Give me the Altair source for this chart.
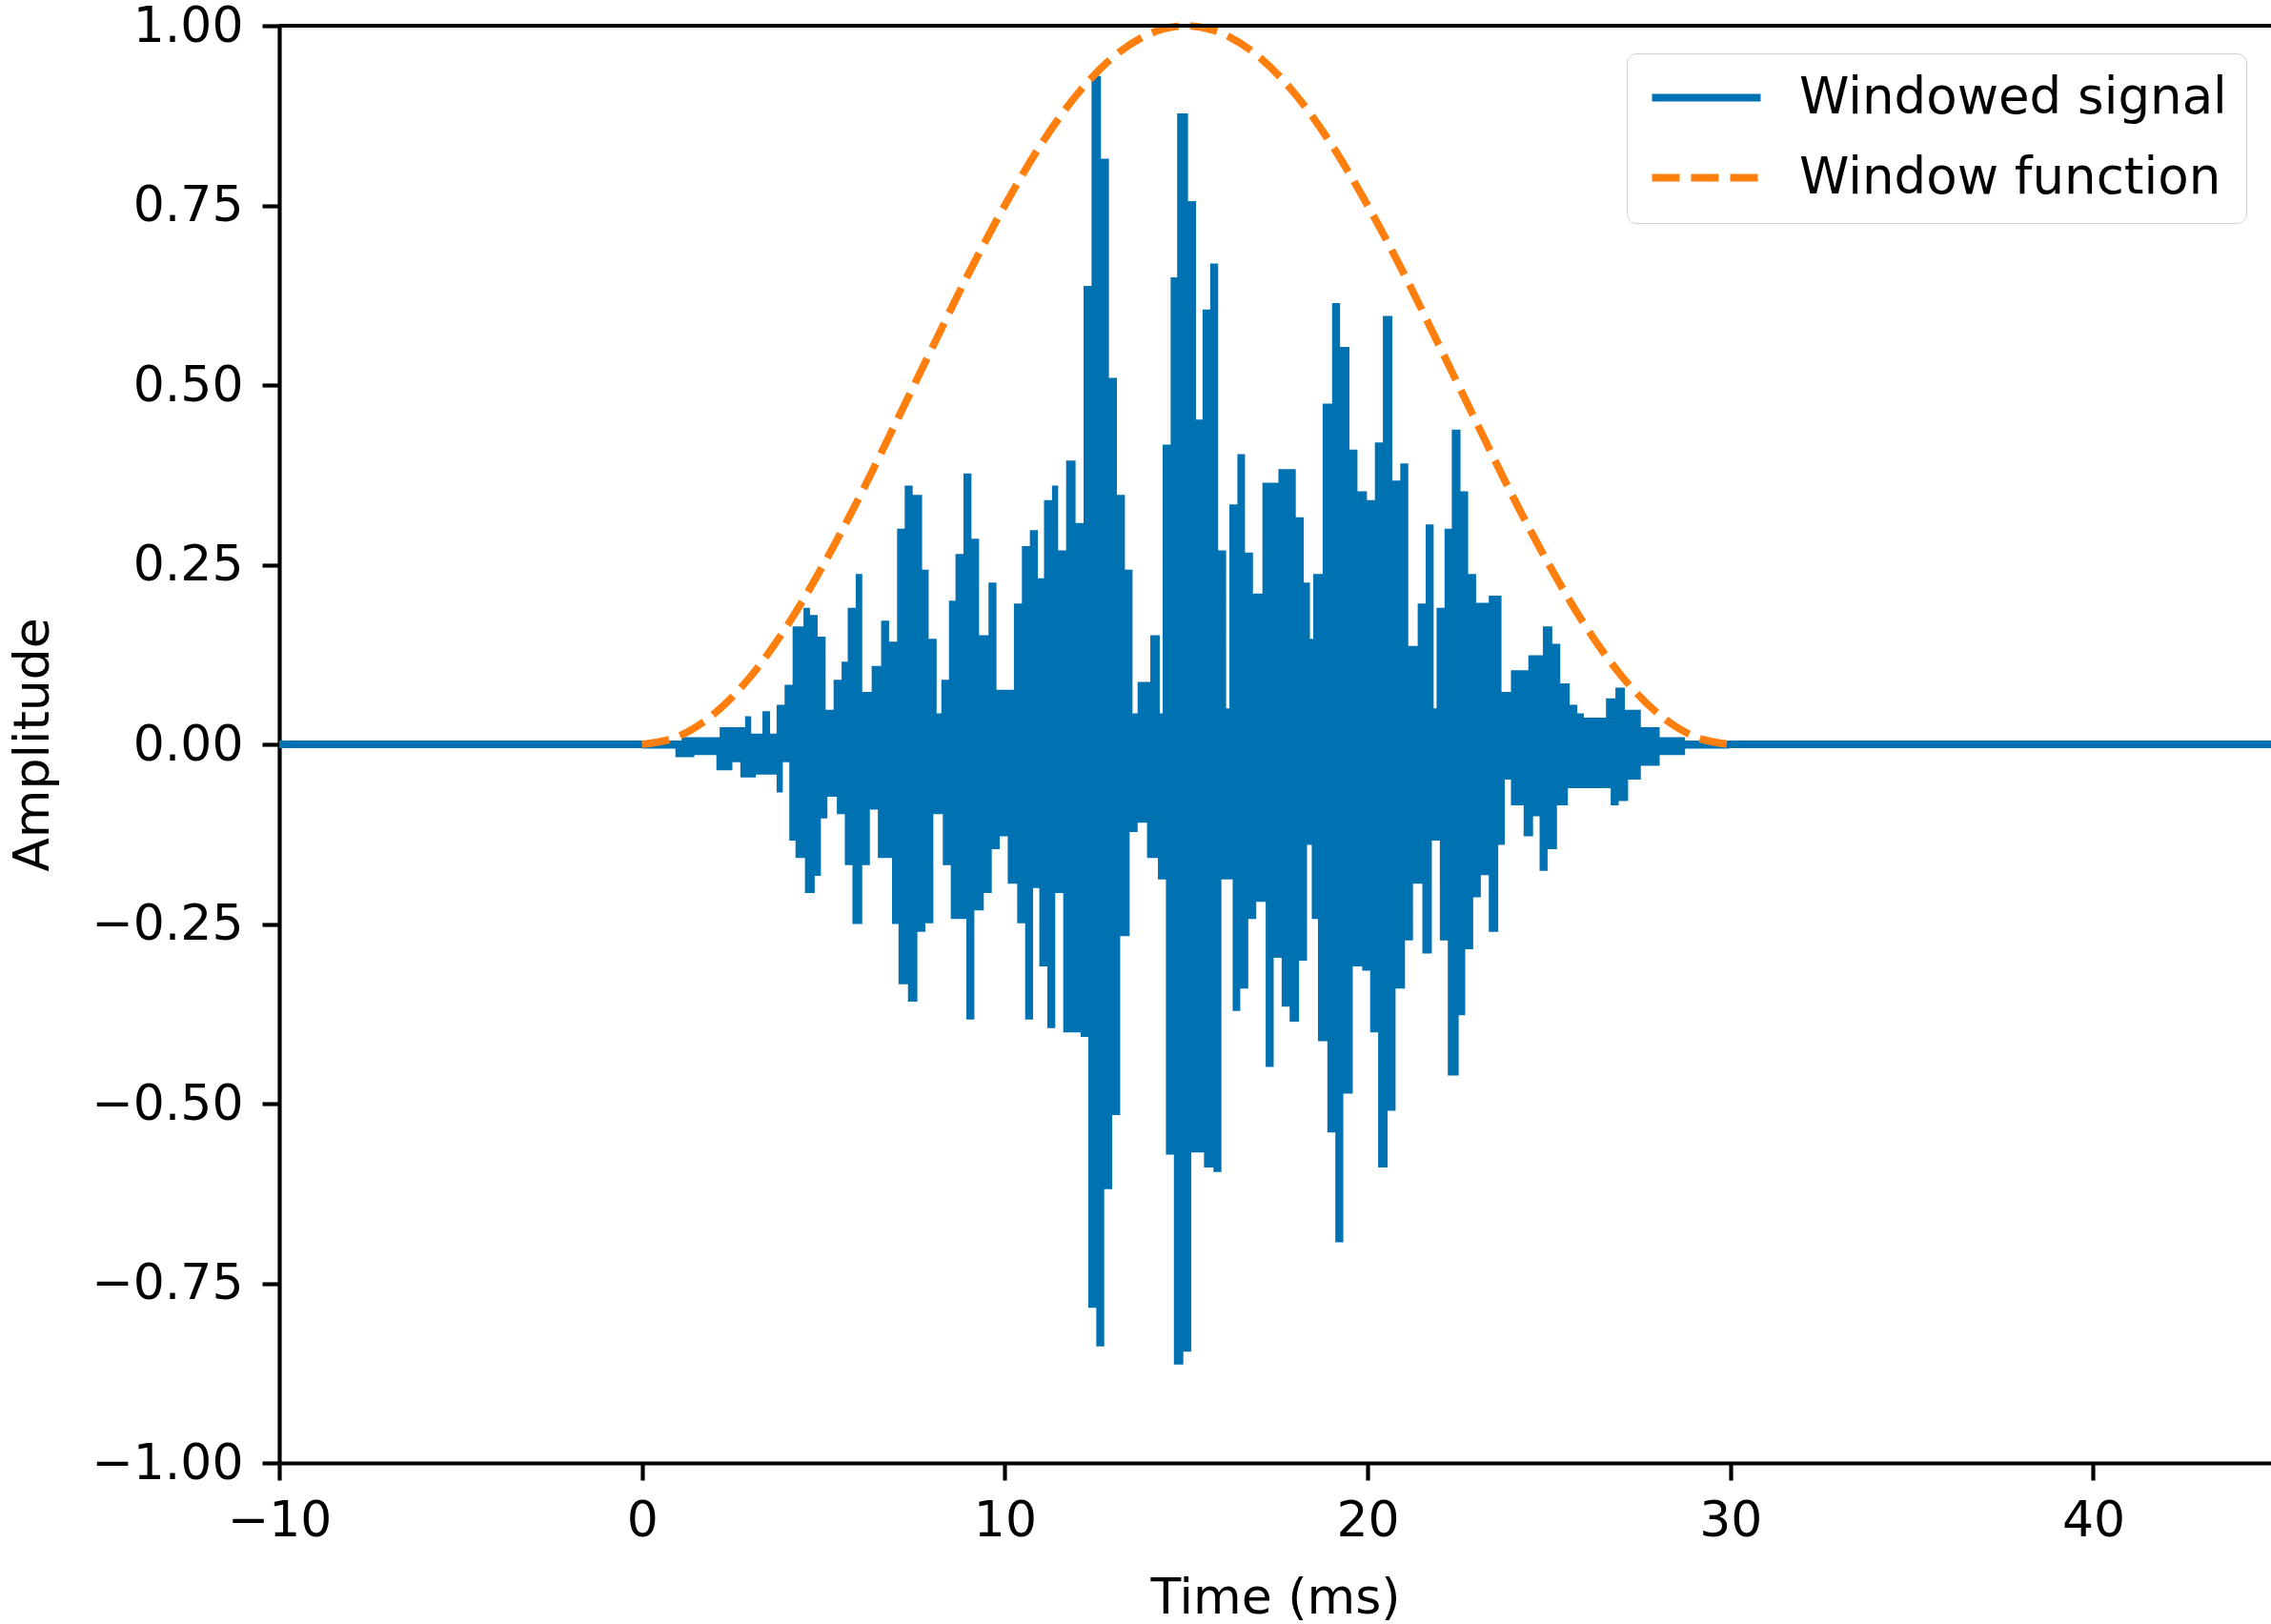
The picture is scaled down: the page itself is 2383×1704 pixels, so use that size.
import altair as alt
import pandas as pd

# ---------------- data ----------------
# Upper envelope of the windowed signal (step-after): time (ms), amplitude
upper_t = [0.0, 1.09, 2.14, 2.84, 3.01, 3.32, 3.53, 3.71, 3.93, 4.15, 4.45, 4.63, 4.84,
           5.06, 5.28, 5.50, 5.67, 5.89, 6.07, 6.33, 6.59, 6.81, 7.03, 7.24, 7.46, 7.72,
           7.90, 8.12, 8.25, 8.46, 8.64, 8.86, 9.08, 9.29, 9.55, 9.77, 10.25, 10.47,
           10.69, 10.91, 11.08, 11.30, 11.47, 11.69, 11.95, 12.17, 12.39, 12.65, 12.87,
           13.09, 13.31, 13.52, 13.66, 14.01, 14.27, 14.35, 14.57, 14.75, 15.05, 15.27,
           15.45, 15.66, 15.88, 16.10, 16.19, 16.41, 16.62, 16.84, 17.10, 17.54, 18.02,
           18.24, 18.41, 18.50, 18.76, 19.02, 19.24, 19.50, 19.72, 19.98, 20.20, 20.42,
           20.68, 20.90, 21.12, 21.38, 21.60, 21.82, 21.90, 22.12, 22.32, 22.56, 22.77,
           22.99, 23.34, 23.69, 23.95, 24.43, 24.83, 25.09, 25.31, 25.57, 25.78, 25.96,
           26.57, 26.83, 27.09, 27.53, 28.05, 28.75, 29.97]
upper_v = [0.003, 0.01, 0.024, 0.039, 0.015, 0.046, 0.015, 0.055, 0.083, 0.164, 0.19, 0.18,
           0.15, 0.048, 0.09, 0.115, 0.19, 0.237, 0.073, 0.109, 0.172, 0.143, 0.30, 0.36,
           0.347, 0.243, 0.147, 0.043, 0.09, 0.20, 0.265, 0.377, 0.286, 0.152, 0.225,
           0.076, 0.196, 0.276, 0.298, 0.231, 0.34, 0.36, 0.27, 0.395, 0.308, 0.638, 0.93,
           0.815, 0.51, 0.347, 0.243, 0.043, 0.087, 0.152, 0.043, 0.417, 0.65, 0.878,
           0.756, 0.452, 0.605, 0.669, 0.27, 0.05, 0.334, 0.404, 0.267, 0.21, 0.364,
           0.383, 0.316, 0.225, 0.147, 0.237, 0.474, 0.614, 0.553, 0.41, 0.352, 0.34,
           0.42, 0.596, 0.367, 0.391, 0.137, 0.196, 0.306, 0.05, 0.19, 0.30, 0.438, 0.352,
           0.237, 0.197, 0.207, 0.073, 0.103, 0.124, 0.164, 0.14, 0.085, 0.055, 0.043,
           0.037, 0.064, 0.079, 0.048, 0.024, 0.01, 0.003, 0.0]

# Lower envelope of the windowed signal (step-after)
lower_t = [0.0, 0.92, 1.44, 2.05, 2.49, 2.71, 3.14, 3.71, 3.88, 4.06, 4.23, 4.49, 4.76,
           4.93, 5.11, 5.37, 5.59, 5.80, 6.07, 6.28, 6.50, 6.89, 7.07, 7.33, 7.59, 7.81,
           8.03, 8.29, 8.51, 8.94, 9.16, 9.42, 9.64, 9.86, 10.08, 10.34, 10.56, 10.78,
           10.95, 11.17, 11.39, 11.61, 12.09, 12.30, 12.52, 12.74, 12.96, 13.18, 13.44,
           13.66, 13.92, 14.22, 14.44, 14.66, 14.92, 15.14, 15.49, 15.75, 15.97, 16.28,
           16.49, 16.71, 16.93, 17.19, 17.41, 17.63, 17.85, 18.11, 18.33, 18.46, 18.63,
           18.89, 19.11, 19.33, 19.59, 19.85, 20.07, 20.29, 20.55, 20.77, 21.03, 21.25,
           21.51, 21.77, 21.99, 22.21, 22.51, 22.69, 22.91, 23.12, 23.34, 23.60, 23.78,
           23.95, 24.30, 24.56, 24.74, 24.96, 25.22, 25.52, 26.48, 26.70, 26.92, 27.18,
           27.53, 28.05, 28.75, 29.97]
lower_v = [-0.006, -0.018, -0.015, -0.036, -0.025, -0.046, -0.042, -0.067, -0.025, -0.134,
           -0.158, -0.207, -0.183, -0.103, -0.073, -0.097, -0.168, -0.25, -0.168, -0.091,
           -0.158, -0.25, -0.334, -0.358, -0.261, -0.249, -0.097, -0.168, -0.243, -0.383,
           -0.231, -0.207, -0.146, -0.128, -0.194, -0.249, -0.383, -0.20, -0.309, -0.395,
           -0.207, -0.401, -0.407, -0.784, -0.838, -0.619, -0.516, -0.267, -0.122, -0.109,
           -0.158, -0.188, -0.571, -0.863, -0.845, -0.568, -0.589, -0.595, -0.188, -0.371,
           -0.34, -0.243, -0.219, -0.449, -0.297, -0.365, -0.386, -0.301, -0.140, -0.243,
           -0.413, -0.54, -0.693, -0.486, -0.309, -0.315, -0.401, -0.589, -0.51, -0.34,
           -0.273, -0.194, -0.291, -0.134, -0.273, -0.461, -0.377, -0.285, -0.213, -0.182,
           -0.261, -0.140, -0.049, -0.085, -0.128, -0.10, -0.176, -0.146, -0.085, -0.061,
           -0.061, -0.085, -0.079, -0.049, -0.03, -0.015, -0.006, 0.0]

# Signal outside the window (flat at zero)
signal_t = [-10.0, 0.0, 30.0, 44.9]
signal_v = [0.0, 0.0, 0.0, 0.0]

# Window function (1 ms steps)
window_t = list(range(0, 31))
window_v = [0.000, 0.011, 0.043, 0.095, 0.165, 0.250, 0.345, 0.448, 0.552, 0.655, 0.750,
            0.835, 0.905, 0.957, 0.989, 1.000, 0.989, 0.957, 0.905, 0.835, 0.750, 0.655,
            0.552, 0.448, 0.345, 0.250, 0.165, 0.095, 0.043, 0.011, 0.000]

series_names = ["Windowed signal", "Window function"]
x_ticks = [-10, 0, 10, 20, 30, 40]
y_ticks = [-1.0, -0.75, -0.5, -0.25, 0.0, 0.25, 0.5, 0.75, 1.0]
x_domain = [-10, 44.9]
y_domain = [-1.0, 1.0]

BLUE = "#0072B2"
ORANGE = "#FF7F0E"
FONT = "DejaVu Sans"
LW = 7.8
AXW = 4.2

# ---------------- tables ----------------
up_df = pd.DataFrame({"t": upper_t, "v": upper_v})
lo_df = pd.DataFrame({"t": lower_t, "v": lower_v})
lines_df = pd.concat([
    pd.DataFrame({"t": signal_t, "v": signal_v, "series": series_names[0]}),
    pd.DataFrame({"t": window_t, "v": window_v, "series": series_names[1]}),
], ignore_index=True)
top_df = pd.DataFrame({"v": [y_domain[1]]})

xscale = alt.Scale(domain=x_domain, nice=False, zero=False)
yscale = alt.Scale(domain=y_domain, nice=False, zero=False)

xaxis = alt.Axis(values=x_ticks, format="d", title="Time (ms)", grid=False,
                 labelFontSize=52, labelFont=FONT, labelColor="black", labelPadding=17,
                 tickSize=18, tickWidth=AXW, tickColor="black",
                 domainWidth=AXW, domainColor="black",
                 titleFontSize=52, titleFont=FONT, titleFontWeight="normal",
                 titleColor="black", titleY=157, titleBaseline="alphabetic",
                 labelFlush=False, labelOverlap=False)
yaxis = alt.Axis(values=y_ticks, format=".2f", title="Amplitude", grid=False,
                 labelFontSize=52, labelFont=FONT, labelColor="black", labelPadding=20,
                 tickSize=18, tickWidth=AXW, tickColor="black",
                 domainWidth=AXW, domainColor="black",
                 titleFontSize=52, titleFont=FONT, titleFontWeight="normal",
                 titleColor="black", titleX=-243, titleY=754, titleAngle=270,
                 titleBaseline="alphabetic", titleAlign="center",
                 labelFlush=False, labelOverlap=False)

legend = alt.Legend(title=None, orient="none", legendX=1414, legendY=29,
                    symbolType="M-1,0H4.7", symbolSize=1600, symbolStrokeWidth=LW,
                    labelFontSize=53, labelFont=FONT, labelColor="black",
                    labelLimit=1000, labelOffset=108, padding=20, rowPadding=30,
                    fillColor="white", strokeColor="#d0d0d0", cornerRadius=10)

base_x = alt.X("t:Q", scale=xscale, axis=xaxis)

area_up = alt.Chart(up_df).mark_area(color=BLUE, interpolate="step-after", opacity=1).encode(
    x=base_x,
    y=alt.Y("v:Q", scale=yscale, axis=yaxis, stack=None),
    y2=alt.datum(0),
)
area_lo = alt.Chart(lo_df).mark_area(color=BLUE, interpolate="step-after", opacity=1).encode(
    x=alt.X("t:Q", scale=xscale),
    y=alt.Y("v:Q", scale=yscale, stack=None),
    y2=alt.datum(0),
)

color_enc = alt.Color("series:N", scale=alt.Scale(domain=series_names, range=[BLUE, ORANGE]),
                      legend=legend, sort=series_names)
dash_enc = alt.StrokeDash("series:N", scale=alt.Scale(domain=series_names, range=[[1, 0], [29, 12]]),
                          legend=legend, sort=series_names)

sig_line = alt.Chart(lines_df).transform_filter(
    alt.datum.series == series_names[0]
).mark_line(strokeWidth=LW, interpolate="linear").encode(
    x=alt.X("t:Q", scale=xscale),
    y=alt.Y("v:Q", scale=yscale),
    color=color_enc,
    strokeDash=dash_enc,
)
win_line = alt.Chart(lines_df).transform_filter(
    alt.datum.series == series_names[1]
).mark_line(strokeWidth=LW, interpolate="monotone", strokeCap="butt").encode(
    x=alt.X("t:Q", scale=xscale),
    y=alt.Y("v:Q", scale=yscale),
    color=color_enc,
    strokeDash=dash_enc,
)

top_rule = alt.Chart(top_df).mark_rule(color="black", strokeWidth=AXW).encode(
    y=alt.Y("v:Q", scale=yscale)
)

chart = alt.layer(sig_line, area_up, area_lo, win_line, top_rule).properties(
    width=2090, height=1508,
    autosize=alt.AutoSizeParams(type="none"),
    padding={"left": 293, "top": 27, "right": 0, "bottom": 169},
    background="white",
).configure_view(stroke=None).configure_legend(symbolStrokeWidth=LW)

chart.save("out.html", embed_options={"renderer": "svg", "actions": False})
